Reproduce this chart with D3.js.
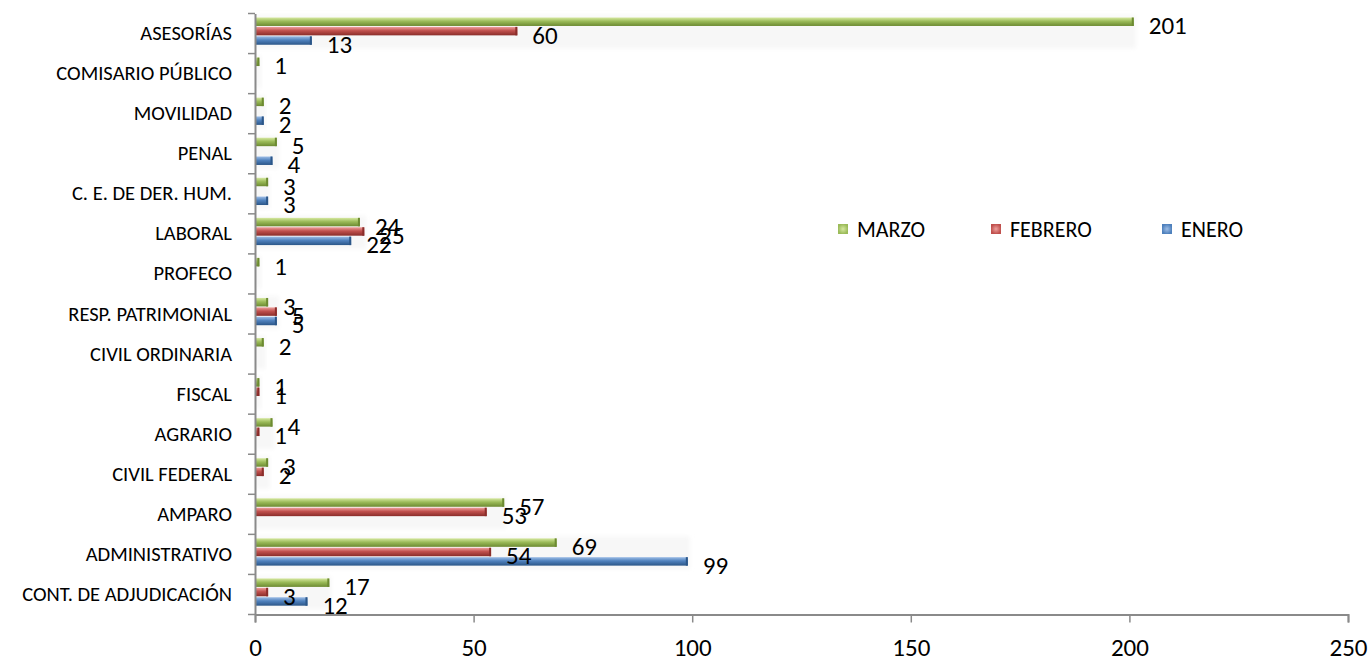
<!DOCTYPE html>
<html>
<head>
<meta charset="utf-8">
<script src="https://cdn.jsdelivr.net/npm/d3@7"></script>
<style>
  html, body { margin: 0; padding: 0; background: #ffffff; }
  svg { display: block; font-family: Carlito, Calibri, "Open Sans", sans-serif; }
</style>
</head>
<body>
<svg id="chart" width="1370" height="671"></svg>
<script>
// ---- data ----
const categories = [
  "ASESORÍAS", "COMISARIO PÚBLICO", "MOVILIDAD", "PENAL", "C. E. DE DER. HUM.",
  "LABORAL", "PROFECO", "RESP. PATRIMONIAL", "CIVIL ORDINARIA", "FISCAL",
  "AGRARIO", "CIVIL FEDERAL", "AMPARO", "ADMINISTRATIVO", "CONT. DE ADJUDICACIÓN"
];
const seriesNames = ["MARZO", "FEBRERO", "ENERO"];
const marzo   = [201, 1, 2, 5, 3, 24, 1, 3, 2, 1, 4, 3, 57, 69, 17];
const febrero = [60, 0, 0, 0, 0, 25, 0, 5, 0, 1, 1, 2, 53, 54, 3];
const enero   = [13, 0, 2, 4, 3, 22, 0, 5, 0, 0, 0, 0, 0, 99, 12];
const xTicks = [0, 50, 100, 150, 200, 250];
const seriesColors = {
  MARZO:   ["#d6e8a0", "#9bbb59", "#6c8a31"],
  FEBRERO: ["#eea09d", "#c0504d", "#8a2d2a"],
  ENERO:   ["#9dbde6", "#4f81bd", "#2b5688"]
};

const valuesBySeries = { MARZO: marzo, FEBRERO: febrero, ENERO: enero };

// ---- layout ----
const svg = d3.select("#chart");
const plot = { left: 255, right: 1348, top: 13.5, bottom: 614.5 };

const x = d3.scaleLinear().domain([0, 250]).range([plot.left, plot.right]);
const y0 = d3.scaleBand().domain(categories).range([plot.top, plot.bottom]).padding(0);
const bw = y0.bandwidth();
const y1 = d3.scaleBand().domain(seriesNames).range([bw * 0.1, bw * 0.78]).paddingInner(0.1);

// gradients
const defs = svg.append("defs");
seriesNames.forEach(s => {
  const c = seriesColors[s];
  const g = defs.append("linearGradient").attr("id", "grad-" + s)
    .attr("x1", 0).attr("y1", 0).attr("x2", 0).attr("y2", 1);
  g.append("stop").attr("offset", "0%").attr("stop-color", c[0]);
  g.append("stop").attr("offset", "45%").attr("stop-color", c[1]);
  g.append("stop").attr("offset", "100%").attr("stop-color", c[2]);
  const r = defs.append("radialGradient").attr("id", "rad-" + s);
  r.append("stop").attr("offset", "0%").attr("stop-color", c[0]);
  r.append("stop").attr("offset", "100%").attr("stop-color", c[1]);
});
const blur = defs.append("filter").attr("id", "soft").attr("x", "-10%").attr("y", "-50%").attr("width", "120%").attr("height", "200%");
blur.append("feGaussianBlur").attr("stdDeviation", 2);

// data table
const rows = [];
categories.forEach((c, i) => {
  seriesNames.forEach(s => {
    rows.push({ cat: c, series: s, value: valuesBySeries[s][i] });
  });
});

// faint shadow panels behind groups
const groupMax = categories.map((c, i) => ({ cat: c, max: Math.max(marzo[i], febrero[i], enero[i]) }));
svg.append("g").selectAll("rect").data(groupMax.filter(d => d.max > 0)).join("rect")
  .attr("x", plot.left)
  .attr("y", d => y0(d.cat) + bw * 0.05)
  .attr("width", d => x(d.max) - x(0) + 2)
  .attr("height", bw * 0.82)
  .attr("fill", "#f7f7f7")
  .attr("filter", "url(#soft)");

// bars
const barG = svg.append("g");
const bars = rows.filter(d => d.value > 0);
barG.selectAll("rect.bar").data(bars).join("rect")
  .attr("class", "bar")
  .attr("x", x(0))
  .attr("y", d => y0(d.cat) + y1(d.series))
  .attr("width", d => x(d.value) - x(0))
  .attr("height", y1.bandwidth())
  .attr("fill", d => `url(#grad-${d.series})`);
// dark end caps
barG.selectAll("rect.cap").data(bars).join("rect")
  .attr("class", "cap")
  .attr("x", d => x(d.value) - 2)
  .attr("y", d => y0(d.cat) + y1(d.series))
  .attr("width", 2)
  .attr("height", y1.bandwidth())
  .attr("fill", d => seriesColors[d.series][2]);

// value labels
svg.append("g").selectAll("text").data(bars).join("text")
  .attr("x", d => x(d.value) + 15)
  .attr("y", d => y0(d.cat) + y1(d.series) + y1.bandwidth() / 2 + 4)
  .attr("dominant-baseline", "central")
  .attr("font-size", 25)
  .attr("fill", "#000")
  .text(d => d.value);

// y axis
const yAxis = d3.axisLeft(y0).tickSize(0).tickPadding(23);
const yg = svg.append("g").attr("transform", `translate(${plot.left},0)`).call(yAxis);
yg.select(".domain").attr("stroke", "#8a8a8a").attr("stroke-width", 2);
yg.selectAll(".tick text").attr("font-size", 20.5).attr("fill", "#000")
  .attr("font-family", "Carlito, Calibri, 'Open Sans', sans-serif");
// category boundary tick marks
svg.append("g").selectAll("line").data(d3.range(categories.length + 1)).join("line")
  .attr("x1", plot.left - 7).attr("x2", plot.left)
  .attr("y1", i => plot.top + i * bw).attr("y2", i => plot.top + i * bw)
  .attr("stroke", "#8a8a8a").attr("stroke-width", 1.5);

// x axis
const xAxis = d3.axisBottom(x).tickValues(xTicks).tickSize(8).tickPadding(16).tickFormat(d3.format("d"));
const xg = svg.append("g").attr("transform", `translate(0,${plot.bottom})`).call(xAxis);
xg.select(".domain").attr("stroke", "#8a8a8a").attr("stroke-width", 2);
xg.selectAll(".tick line").attr("stroke", "#8a8a8a").attr("stroke-width", 1.5);
xg.selectAll(".tick text").attr("font-size", 25).attr("fill", "#000")
  .attr("font-family", "Carlito, Calibri, 'Open Sans', sans-serif");

// legend
const legendPos = { MARZO: 838, FEBRERO: 991, ENERO: 1162 };
const lg = svg.append("g");
seriesNames.forEach(s => {
  lg.append("rect").attr("x", legendPos[s]).attr("y", 224).attr("width", 10).attr("height", 10)
    .attr("fill", `url(#rad-${s})`);
  lg.append("text").attr("x", legendPos[s] + 19).attr("y", 229)
    .attr("dominant-baseline", "central").attr("font-size", 22).attr("fill", "#000").text(s);
});
</script>
</body>
</html>
